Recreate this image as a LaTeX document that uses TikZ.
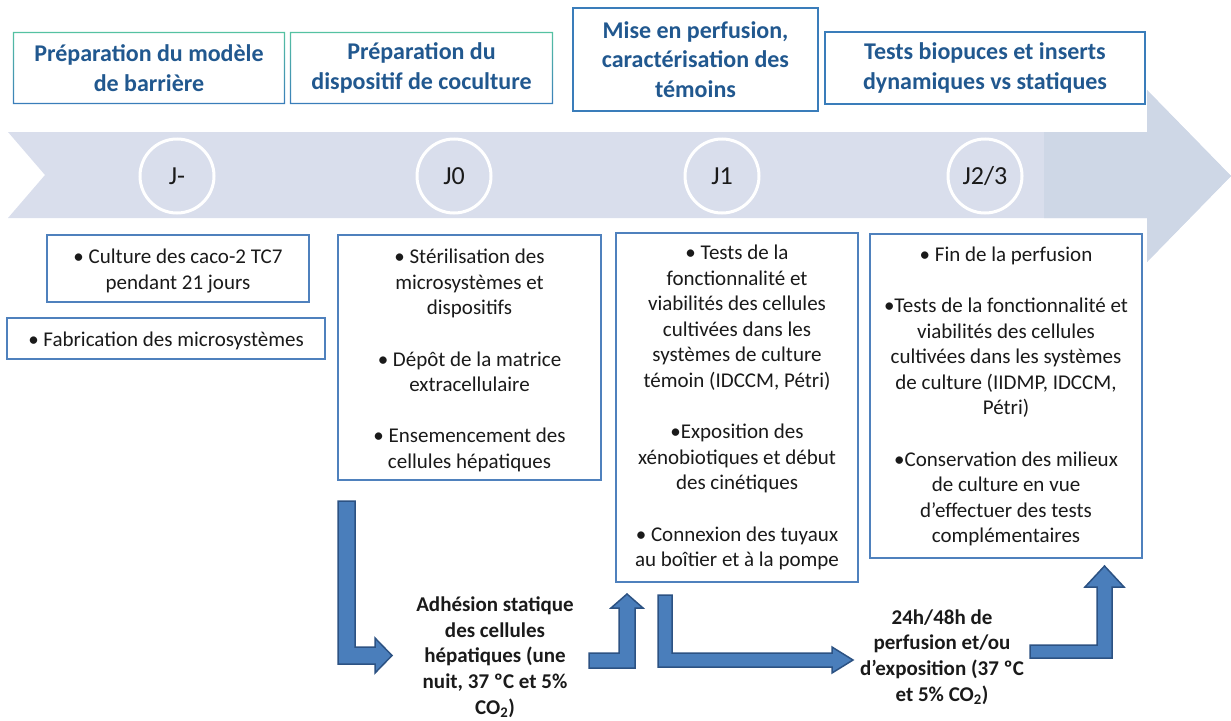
\documentclass[tikz,border=0pt]{standalone}
\usepackage{fontspec}
\setmainfont{Carlito}
\definecolor{band}{HTML}{D9DEEC}
\definecolor{banddark}{HTML}{CED7E6}
\definecolor{hdrtext}{HTML}{21588F}
\definecolor{hdrline}{HTML}{3A7DBA}
\definecolor{hdrtop}{HTML}{55C2A2}
\definecolor{boxline}{HTML}{4F81BD}
\definecolor{arrfill}{HTML}{4A7EBB}
\definecolor{arrline}{HTML}{2C5283}
\definecolor{bodytxt}{HTML}{1A1A1A}
\begin{document}
\begin{tikzpicture}[x=1pt,y=-1pt,
  header/.style={draw=hdrline, line width=1.3pt, fill=white, text=hdrtext,
    font=\fontsize{24}{29.5}\selectfont\bfseries, align=center, inner sep=0pt},
  headerplain/.style={fill=white, text=hdrtext,
    font=\fontsize{24}{29.5}\selectfont\bfseries, align=center, inner sep=0pt},
  frameshade/.style={even odd rule, top color=hdrtop, bottom color=hdrline},
  bodybox/.style={draw=boxline, line width=2.5pt, fill=white, inner sep=0pt},
  bodytext/.style={align=center, font=\fontsize{21}{25.6}\selectfont, text=bodytxt, inner sep=0pt},
  daycircle/.style={circle, draw=white, line width=3pt, fill=band, minimum size=74pt,
    inner sep=0pt, font=\fontsize{26}{30}\selectfont, text=bodytxt},
  notetext/.style={align=center, font=\fontsize{21}{25.6}\selectfont\bfseries, text=bodytxt, inner sep=0pt},
  blockarrow/.style={fill=arrfill, draw=arrline, line width=1.5pt, line join=miter}]
\useasboundingbox (0,0) rectangle (1231,720);

% timeline band
\fill[band] (8,132) -- (1147,132) -- (1147,90) -- (1231,176) -- (1147,262) -- (1147,218) -- (8,218) -- (45,175) -- cycle;
\fill[banddark] (1044,132) -- (1147,132) -- (1147,90) -- (1231,176) -- (1147,262) -- (1147,218) -- (1044,218) -- cycle;

% headers
\node[headerplain, minimum width=272pt, minimum height=72pt] (h1) at (149,68) {Préparation du modèle\\de barrière};
\shade[frameshade] (h1.north west) rectangle (h1.south east)
  ([xshift=1.4pt,yshift=-1.4pt]h1.north west) rectangle ([xshift=-1.4pt,yshift=1.4pt]h1.south east);
\node[headerplain, minimum width=263pt, minimum height=72pt] (h2) at (421.5,68) {Préparation du\\dispositif de coculture};
\shade[frameshade] (h2.north west) rectangle (h2.south east)
  ([xshift=1.4pt,yshift=-1.4pt]h2.north west) rectangle ([xshift=-1.4pt,yshift=1.4pt]h2.south east);
\node[header, minimum width=245pt, minimum height=103pt] (h3) at (695.5,59.5) {Mise en perfusion,\\caractérisation des\\témoins};
\node[header, minimum width=320pt, minimum height=72pt] (h4) at (985,68) {Tests biopuces et inserts\\dynamiques vs statiques};

% day circles
\node[daycircle] (d1) at (177,176) {J-};
\node[daycircle] (d2) at (454,176) {J0};
\node[daycircle] (d3) at (722,176) {J1};
\node[daycircle] (d4) at (985,176) {J2/3};

% body boxes
\node[bodybox, minimum width=262pt, minimum height=67pt] (bA) at (178,268.5) {};
\node[bodytext] (tA) at (178,271) {• Culture des caco-2 TC7\\pendant 21 jours};
\node[bodybox, minimum width=318pt, minimum height=41pt] (bB) at (166,338.5) {};
\node[bodytext] (tB) at (166,341) {• Fabrication des microsystèmes};
\node[bodybox, minimum width=263pt, minimum height=245pt] (bC) at (469.5,357.5) {};
\node[bodytext] (tC) at (469.5,360.5) {• Stérilisation des\\microsystèmes et\\dispositifs\\[25.6pt]• Dépôt de la matrice\\extracellulaire\\[25.6pt]• Ensemencement des\\cellules hépatiques};
\node[bodybox, minimum width=242pt, minimum height=349pt] (bD) at (737,407.5) {};
\node[bodytext] (tD) at (737,407.5) {• Tests de la\\fonctionnalité et\\viabilités des cellules\\cultivées dans les\\systèmes de culture\\témoin (IDCCM, Pétri)\\[25.6pt]•Exposition des\\xénobiotiques et début\\des cinétiques\\[25.6pt]• Connexion des tuyaux\\au boîtier et à la pompe};
\node[bodybox, minimum width=272pt, minimum height=324pt] (bE) at (1006,396) {};
\node[bodytext] (tE) at (1006,396.5) {• Fin de la perfusion\\[25.6pt]•Tests de la fonctionnalité et\\viabilités des cellules\\cultivées dans les systèmes\\de culture (IIDMP, IDCCM,\\Pétri)\\[25.6pt]•Conservation des milieux\\de culture en vue\\d’effectuer des tests\\complémentaires};

% notes
\node[notetext] (n1) at (495,657) {Adhésion statique\\des cellules\\hépatiques (une\\nuit, 37 ºC et 5\%\\CO\textsubscript{2})};
\node[notetext] (n2) at (942,657) {24h/48h de\\perfusion et/ou\\d’exposition (37 ºC\\et 5\% CO\textsubscript{2})};

% block arrows
\draw[blockarrow] (338,501) -- (355,501) -- (355,647) -- (375,647) -- (375,638) -- (392,655.5) -- (375,673) -- (375,664) -- (338,664) -- cycle;
\draw[blockarrow] (589,653) -- (619,653) -- (619,608) -- (611,608) -- (627,594) -- (643,608) -- (635,608) -- (635,668) -- (589,668) -- cycle;
\draw[blockarrow] (658,595) -- (672,595) -- (672,653) -- (832,653) -- (832,647) -- (853,660) -- (832,673) -- (832,667) -- (658,667) -- cycle;
\draw[blockarrow] (1030,645) -- (1097,645) -- (1097,587) -- (1085,587) -- (1104.5,566) -- (1124,587) -- (1112,587) -- (1112,658) -- (1030,658) -- cycle;
\end{tikzpicture}
\end{document}
